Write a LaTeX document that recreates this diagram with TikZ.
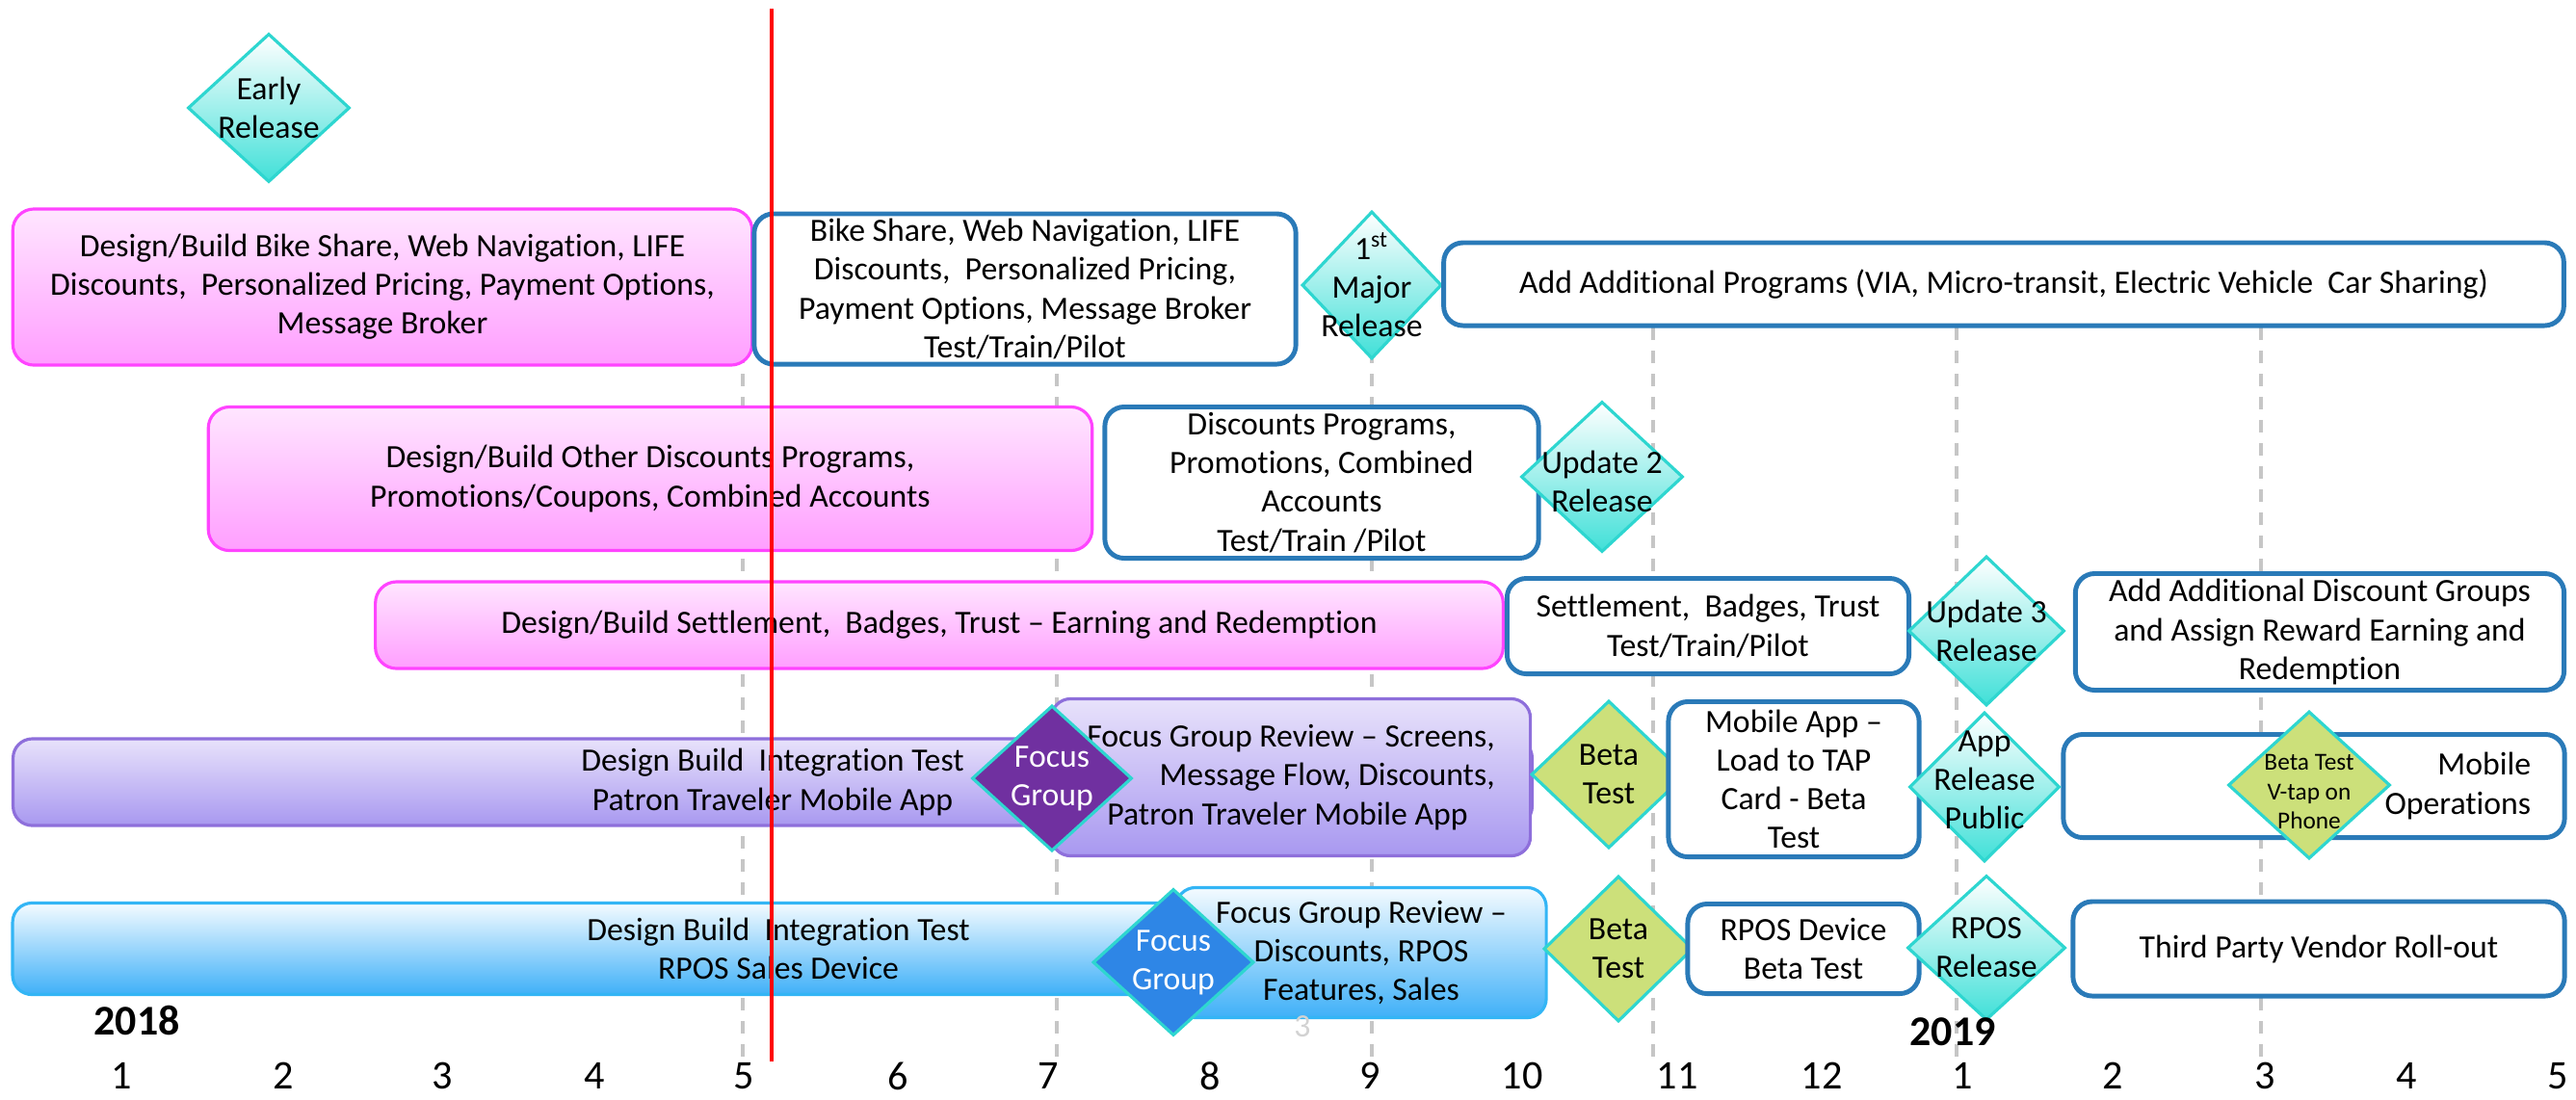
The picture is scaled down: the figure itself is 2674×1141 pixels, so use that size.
\documentclass[tikz,border=0pt]{standalone}
\usepackage{fontspec}
\setmainfont{Carlito}[Ligatures={TeX,NoCommon}]
\usepackage{tikz}
\usetikzlibrary{shapes.geometric}
\usetikzlibrary{positioning}
\definecolor{pinkline}{RGB}{255,68,255}
\definecolor{pinktop}{RGB}{255,230,255}
\definecolor{pinkbot}{RGB}{255,158,255}
\definecolor{boxline}{RGB}{42,122,184}
\definecolor{tealline}{RGB}{46,214,208}
\definecolor{tealbot}{RGB}{64,224,216}
\definecolor{purpline}{RGB}{142,111,219}
\definecolor{purptop}{RGB}{232,226,251}
\definecolor{purpbot}{RGB}{168,152,240}
\definecolor{darkpurp}{RGB}{112,48,160}
\definecolor{blueline}{RGB}{51,181,245}
\definecolor{bluetop}{RGB}{244,251,255}
\definecolor{bluebot}{RGB}{63,176,248}
\definecolor{focusblue}{RGB}{46,134,230}
\definecolor{betagreen}{RGB}{204,224,122}
\tikzset{
box_text/.style={font=\fontsize{9.6}{11.4}\selectfont, align=center, inner sep=0pt},
design_box/.style={rectangle, rounded corners=0.22cm, draw=pinkline, line width=0.9pt, top color=pinktop, bottom color=pinkbot, box_text},
test_box/.style={rectangle, rounded corners=0.2cm, draw=boxline, line width=1.4pt, fill=white, box_text},
mobile_bar/.style={rectangle, rounded corners=0.2cm, draw=purpline, line width=0.9pt, top color=purptop, bottom color=purpbot, box_text},
rpos_bar/.style={rectangle, rounded corners=0.2cm, draw=blueline, line width=0.9pt, top color=bluetop, bottom color=bluebot, box_text},
release/.style={diamond, draw=tealline, line width=0.9pt, top color=white, bottom color=tealbot, inner sep=0pt},
beta/.style={diamond, draw=tealline, line width=0.9pt, fill=betagreen, inner sep=0pt},
focus_purple/.style={diamond, draw=tealline, line width=0.9pt, fill=darkpurp, inner sep=0pt},
focus_blue/.style={diamond, draw=tealline, line width=0.9pt, fill=focusblue, inner sep=0pt},
diamond_text/.style={box_text},
grid_line/.style={draw=gray!45, line width=1.2pt, dash pattern=on 0.13cm off 0.11cm},
today_line/.style={draw=red, line width=0.9pt},
month/.style={font=\fontsize{12}{14}\selectfont},
year/.style={font=\fontsize{12.5}{14}\selectfont\bfseries}
}

\begin{document}
\begin{tikzpicture}[x=0.01cm, y=-0.01cm]
    \useasboundingbox (0,0) rectangle (2674,1141);

    \foreach \x in {771,1097,1424,1716,2031,2347}
        \draw[grid_line] (\x,340) -- (\x,1100);

    \node[release, minimum width=1.68cm, minimum height=1.54cm] (rel_0) at (279,112) {};
    \node[diamond_text] (rel_0_t) at (rel_0) {Early\\Release};

    \node[design_box, minimum width=7.67cm, minimum height=1.62cm] (design_1) at (397,298) {Design/Build Bike Share, Web Navigation, LIFE\\Discounts,\ \ Personalized Pricing, Payment Options,\\Message Broker};
    \node[test_box, minimum width=5.62cm, minimum height=1.56cm] (test_1) at (1064,300) {Bike Share, Web Navigation, LIFE\\Discounts,\ \ Personalized Pricing,\\Payment Options, Message Broker\\Test/Train/Pilot};
    \node[release, minimum width=1.45cm, minimum height=1.53cm] (rel_1) at (1424,296) {};
    \node[diamond_text] (rel_1_t) at (rel_1) {1\textsuperscript{st}\\Major\\Release};
    \node[test_box, minimum width=11.62cm, minimum height=0.86cm] (add_1) at (2080,295) {Add Additional Programs (VIA, Micro-transit, Electric Vehicle\ \ Car Sharing)};

    \node[design_box, minimum width=9.17cm, minimum height=1.49cm] (design_2) at (675,497) {Design/Build Other Discounts Programs,\\Promotions/Coupons, Combined Accounts};
    \node[test_box, minimum width=4.50cm, minimum height=1.57cm] (test_2) at (1372,501) {Discounts Programs,\\Promotions, Combined\\Accounts\\Test/Train /Pilot};
    \node[release, minimum width=1.68cm, minimum height=1.56cm] (rel_2) at (1663,495) {};
    \node[diamond_text] (rel_2_t) at (1663,500) {Update 2\\Release};

    \node[design_box, minimum width=11.70cm, minimum height=0.90cm] (design_3) at (975,649) {Design/Build Settlement,\ \ Badges, Trust -- Earning and Redemption};
    \node[test_box, minimum width=4.17cm, minimum height=0.99cm] (test_3) at (1773,650) {Settlement,\ \ Badges, Trust\\Test/Train/Pilot};
    \node[release, minimum width=1.62cm, minimum height=1.55cm] (rel_3) at (2062,655) {};
    \node[diamond_text] (rel_3_t) at (rel_3) {Update 3\\Release};
    \node[test_box, minimum width=5.07cm, minimum height=1.21cm] (add_3) at (2408,656) {Add Additional Discount Groups\\and Assign Reward Earning and\\Redemption};

    \node[mobile_bar, minimum width=15.76cm, minimum height=0.90cm] (build_4) at (802,812) {Design Build\ \ Integration Test\\Patron Traveler Mobile App};
    \node[mobile_bar, minimum width=4.97cm, minimum height=1.63cm, align=right] (review_4) at (1340,807) {Focus Group Review -- Screens,\\Message Flow, Discounts,\\Patron Traveler Mobile App\hspace*{0.28cm}};
    \node[focus_purple, minimum width=1.66cm, minimum height=1.51cm] (focus_4) at (1092,808) {};
    \node[diamond_text, text=white] (focus_4_t) at (focus_4) {Focus\\Group};
    \node[beta, minimum width=1.61cm, minimum height=1.53cm] (beta_4) at (1670,804) {};
    \node[diamond_text] (beta_4_t) at (beta_4) {Beta\\Test};
    \node[test_box, minimum width=2.60cm, minimum height=1.61cm] (test_4) at (1862,809) {Mobile App --\\Load to TAP\\Card - Beta\\Test};
    \node[test_box, minimum width=5.20cm, minimum height=1.07cm, text width=4.5cm, align=right] (ops_4) at (2402,816) {Mobile\\Operations};
    \node[release, minimum width=1.56cm, minimum height=1.55cm] (rel_4) at (2060,817) {};
    \node[diamond_text] (rel_4_t) at (2060,810) {App\\Release\\Public};
    \node[beta, minimum width=1.68cm, minimum height=1.53cm] (beta_4_1) at (2397,815) {};
    \node[diamond_text, font=\fontsize{7.2}{8.6}\selectfont] (beta_4_1_t) at (2397,822) {Beta Test\\V-tap on\\Phone};

    \node[rpos_bar, minimum width=15.89cm, minimum height=0.95cm] (build_5) at (808,985) {Design Build\ \ Integration Test\\RPOS Sales Device};
    \node[rpos_bar, minimum width=3.84cm, minimum height=1.35cm] (review_5) at (1413,989) {Focus Group Review --\\Discounts, RPOS\\Features, Sales};
    \node[focus_blue, minimum width=1.67cm, minimum height=1.52cm] (focus_5) at (1218,999) {};
    \node[diamond_text, text=white] (focus_5_t) at (focus_5) {Focus\\Group};
    \node[beta, minimum width=1.55cm, minimum height=1.51cm] (beta_5) at (1680,985) {};
    \node[diamond_text] (beta_5_t) at (beta_5) {Beta\\Test};
    \node[test_box, minimum width=2.40cm, minimum height=0.93cm] (test_5) at (1872,985) {RPOS Device\\Beta Test};
    \node[release, minimum width=1.64cm, minimum height=1.50cm] (rel_5) at (2062,984) {};
    \node[diamond_text] (rel_5_t) at (rel_5) {RPOS\\Release};
    \node[test_box, minimum width=5.10cm, minimum height=0.98cm] (vendor_5) at (2407,985) {Third Party Vendor Roll-out};

    \node[year] (year_1) at (142,1059) {2018};
    \node[year] (year_2) at (2027,1071) {2019};
    \node[box_text, text=gray!35] (faint_3) at (1352,1066) {3};

    \foreach \x/\m [count=\i] in {126/1,294/2,459/3,617/4,772/5,932/6,1088/7,1256/8,1422/9,1580/10,1741/11,1891/12,2037/1,2193/2,2351/3,2498/4,2655/5}
        \node[month] (month_\i) at (\x,1117) {\m};

    \draw[today_line] (801,9) -- (801,1102);
\end{tikzpicture}
\end{document}
